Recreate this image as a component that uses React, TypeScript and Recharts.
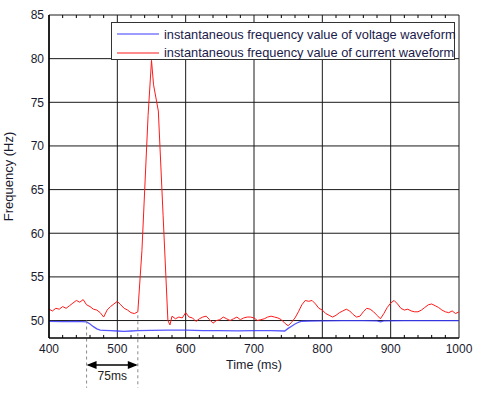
import React from "react";
import {
  LineChart,
  Line,
  XAxis,
  YAxis,
  CartesianGrid,
  ReferenceLine,
} from "recharts";

// ---- data ----
const seriesNames = [
  "instantaneous frequency value of voltage waveform",
  "instantaneous frequency value of current waveform",
];
const seriesColors = ["#3a3aff", "#ff1a1a"];

const currentTime = [
  400, 405, 410, 415, 420, 425, 430, 435, 440, 445, 450, 455, 460, 465, 470, 475,
  480, 485, 490, 495, 500, 505, 510, 515, 520, 525, 530, 536, 545, 550, 553, 560,
  567, 574, 577, 580, 585, 590, 595, 600, 605, 610, 615, 620, 625, 630, 635, 640,
  645, 650, 655, 660, 665, 670, 675, 680, 685, 690, 695, 700, 705, 710, 715, 720,
  725, 730, 735, 740, 745, 750, 755, 760, 765, 770, 775, 780, 785, 790, 795, 800,
  805, 810, 815, 820, 825, 830, 835, 840, 845, 850, 855, 860, 865, 870, 875, 880,
  885, 890, 895, 900, 905, 910, 915, 920, 925, 930, 935, 940, 945, 950, 955, 960,
  965, 970, 975, 980, 985, 990, 995, 1000,
];
const currentFreq = [
  51.3, 51.1, 51.4, 51.3, 51.6, 51.4, 51.7, 52.0, 52.3, 52.1, 52.4, 51.8, 51.6, 51.3, 51.2, 50.9,
  50.4, 51.2, 51.6, 51.9, 52.2, 51.8, 51.4, 51.2, 50.9, 50.8, 51.0, 58.0, 73.5, 79.8, 77.0, 74.0,
  62.0, 50.0, 49.5, 50.5, 50.2, 50.4, 50.3, 50.9, 50.4, 50.3, 49.9, 50.2, 50.4, 50.5, 50.1, 49.7,
  50.0, 50.1, 50.4, 50.2, 50.0, 50.2, 50.4, 50.1, 50.3, 50.4, 50.4, 50.3, 50.0, 50.1, 50.2, 50.4,
  50.5, 50.4, 50.3, 50.1, 49.7, 49.4, 49.8, 50.3, 51.0, 51.8, 52.3, 52.2, 52.3, 51.9, 51.4, 51.2,
  50.8, 50.6, 50.4, 50.6, 50.9, 51.1, 51.3, 51.1, 50.7, 50.4, 50.5, 51.0, 51.4, 51.3, 51.0, 50.6,
  50.2, 50.8, 51.5, 52.0, 52.3, 51.9, 51.4, 51.2, 51.3, 51.1, 51.0, 51.0, 51.2, 51.5, 51.8, 51.9,
  51.7, 51.5, 51.2, 51.0, 50.9, 51.1, 50.8, 51.0,
];

const voltageTime = [
  400, 420, 440, 455, 460, 465, 470, 475, 480, 490, 500, 510, 520, 530, 550, 575,
  600, 625, 650, 675, 700, 725, 745, 750, 755, 760, 765, 770, 780, 800, 830, 860,
  880, 885, 890, 920, 950, 980, 1000,
];
const voltageFreq = [
  49.9, 49.88, 49.9, 49.85, 49.6, 49.3, 49.05, 48.9, 48.88, 48.85, 48.8, 48.75, 48.8, 48.85, 48.88, 48.9,
  48.9, 48.85, 48.85, 48.82, 48.85, 48.85, 48.8, 49.1, 49.35, 49.6, 49.8, 49.92, 49.95, 49.97, 49.98, 49.98,
  49.97, 49.85, 49.97, 49.98, 49.99, 50.0, 50.0,
];

const xTicks = [400, 500, 600, 700, 800, 900, 1000];
const yTicks = [50, 55, 60, 65, 70, 75, 80, 85];
const xMinorTicks = [
  420, 440, 460, 480, 520, 540, 560, 580, 620, 640, 660, 680, 720, 740, 760, 780,
  820, 840, 860, 880, 920, 940, 960, 980,
];
const xDomain = [400, 1000];
const yDomain = [48, 85];

const annotStart = 455;
const annotEnd = 530;
const annotLabel = "75ms";

const currentData = currentTime.map((t, i) => ({ t, v: currentFreq[i] }));
const voltageData = voltageTime.map((t, i) => ({ t, v: voltageFreq[i] }));

const FONT = "Arial, 'Liberation Sans', sans-serif";

const ArrowShape = (props: any) => {
  const { x1, y1, x2, y2 } = props;
  if (x1 == null) return null;
  const h = 4;
  const w = 10;
  return (
    <g>
      <line x1={x1 + 2} y1={y1} x2={x2 - 2} y2={y2} stroke="#000" strokeWidth={1.6} />
      <polygon points={`${x1},${y1} ${x1 + w},${y1 - h} ${x1 + w},${y1 + h}`} fill="#000" />
      <polygon points={`${x2},${y2} ${x2 - w},${y2 - h} ${x2 - w},${y2 + h}`} fill="#000" />
      <text
        x={(x1 + x2) / 2}
        y={y1 + 15}
        textAnchor="middle"
        fontFamily={FONT}
        fontSize={12}
        fill="#222"
      >
        {annotLabel}
      </text>
    </g>
  );
};

export default function App() {
  return (
    <div style={{ position: "absolute", left: 0, top: 0, width: 500, height: 397, background: "#fff" }}>
      <LineChart
        width={500}
        height={397}
        margin={{ top: 15, right: 41, bottom: 0, left: 0 }}
        style={{ fontFamily: FONT }}
      >
        <CartesianGrid
          stroke="#1a1a1a"
          strokeWidth={1}
          horizontalValues={yTicks}
          verticalValues={xTicks}
        />
        <XAxis
          dataKey="t"
          type="number"
          domain={xDomain}
          ticks={xTicks}
          allowDataOverflow
          axisLine={{ stroke: "#000", strokeWidth: 1.5 }}
          tickLine={false}
          tickSize={0}
          tickMargin={6}
          height={59}
          tick={{ fontSize: 12, fill: "#1a1a2e", fontFamily: FONT }}
          label={{
            value: "Time (ms)",
            position: "insideTop",
            offset: 22,
            style: { fontSize: 12.5, fill: "#1a1a2e", fontFamily: FONT },
          }}
        />
        <XAxis
          xAxisId="top"
          orientation="top"
          dataKey="t"
          type="number"
          domain={xDomain}
          ticks={xTicks}
          axisLine={{ stroke: "#000", strokeWidth: 1.5 }}
          tick={false}
          tickLine={false}
          height={0}
        />
        <YAxis
          type="number"
          domain={yDomain}
          ticks={yTicks}
          allowDataOverflow
          width={49}
          axisLine={{ stroke: "#000", strokeWidth: 1.5 }}
          tickLine={false}
          tickSize={0}
          tickMargin={5}
          tick={{ fontSize: 12, fill: "#1a1a2e", fontFamily: FONT }}
          label={{
            value: "Frequency (Hz)",
            angle: -90,
            position: "insideLeft",
            offset: 8,
            style: { fontSize: 13, fill: "#1a1a2e", fontFamily: FONT, textAnchor: "middle" },
          }}
        />
        <YAxis
          yAxisId="right"
          orientation="right"
          type="number"
          domain={yDomain}
          ticks={yTicks}
          axisLine={{ stroke: "#777", strokeWidth: 1.5 }}
          tick={false}
          tickLine={false}
          width={0}
        />
        {xMinorTicks.map((t) => (
          <ReferenceLine
            key={`b${t}`}
            segment={[
              { x: t, y: yDomain[0] },
              { x: t, y: yDomain[0] + 0.35 },
            ]}
            stroke="#000"
            strokeWidth={1}
          />
        ))}
        {xMinorTicks.map((t) => (
          <ReferenceLine
            key={`t${t}`}
            segment={[
              { x: t, y: yDomain[1] },
              { x: t, y: yDomain[1] - 0.35 },
            ]}
            stroke="#000"
            strokeWidth={1}
          />
        ))}
        <Line
          data={voltageData}
          dataKey="v"
          name={seriesNames[0]}
          stroke={seriesColors[0]}
          strokeWidth={1.3}
          strokeOpacity={0.85}
          dot={false}
          isAnimationActive={false}
        />
        <Line
          data={currentData}
          dataKey="v"
          name={seriesNames[1]}
          stroke={seriesColors[1]}
          strokeWidth={1}
          dot={false}
          isAnimationActive={false}
        />
        <ReferenceLine
          segment={[
            { x: annotStart, y: 50 },
            { x: annotStart, y: 42.3 },
          ]}
          stroke="#888"
          strokeDasharray="3 3"
          ifOverflow="visible"
        />
        <ReferenceLine
          segment={[
            { x: annotEnd, y: 50.6 },
            { x: annotEnd, y: 42.3 },
          ]}
          stroke="#888"
          strokeDasharray="3 3"
          ifOverflow="visible"
        />
        <ReferenceLine
          segment={[
            { x: annotStart, y: 44.9 },
            { x: annotEnd, y: 44.9 },
          ]}
          ifOverflow="visible"
          shape={ArrowShape}
        />
      </LineChart>
      <div
        style={{
          position: "absolute",
          left: 111,
          top: 22,
          width: 344,
          height: 38,
          boxSizing: "border-box",
          border: "1px solid #333",
          background: "#fff",
          fontFamily: FONT,
          fontSize: 12.8,
          color: "#1a1a4a",
        }}
      >
        {seriesNames.map((n, i) => (
          <div
            key={n}
            style={{ position: "absolute", left: 5, top: 2 + i * 18.5, height: 18, display: "flex", alignItems: "center", whiteSpace: "nowrap" }}
          >
            <svg width={42} height={4} style={{ marginRight: 5 }}>
              <line x1={0} y1={2} x2={42} y2={2} stroke={seriesColors[i]} strokeWidth={1.2} />
            </svg>
            <span>{n}</span>
          </div>
        ))}
      </div>
    </div>
  );
}
